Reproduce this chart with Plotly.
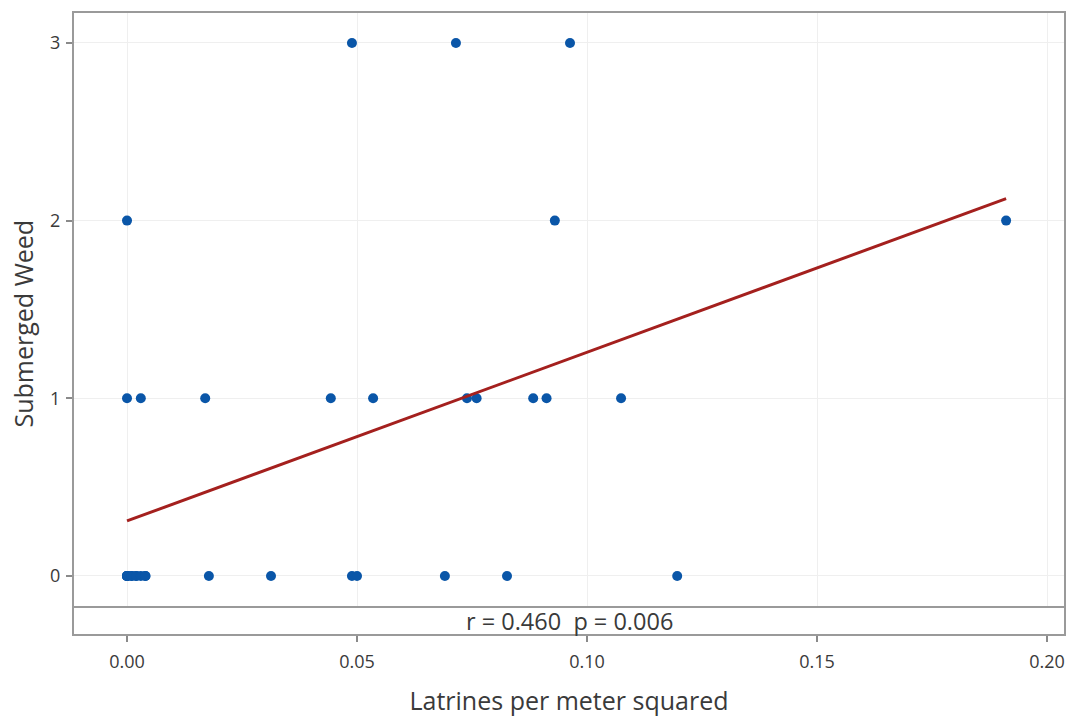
import numpy as np
import plotly.graph_objects as go

# Data
latrines = [
    0.0489, 0.0715, 0.0963,
    0.0, 0.0930, 0.1911,
    0.0, 0.0030, 0.0170, 0.0443, 0.0535, 0.0739, 0.0760, 0.0883, 0.0912, 0.1074,
    0.0, 0.0, 0.0, 0.0, 0.0, 0.001, 0.001, 0.002, 0.002, 0.003, 0.004, 0.004,
    0.0178, 0.0313, 0.0489, 0.0500, 0.0691, 0.0826, 0.1196,
]
weed = [
    3, 3, 3,
    2, 2, 2,
    1, 1, 1, 1, 1, 1, 1, 1, 1, 1,
    0, 0, 0, 0, 0, 0, 0, 0, 0, 0, 0, 0,
    0, 0, 0, 0, 0, 0, 0,
]
x_ticks = [0.0, 0.05, 0.10, 0.15, 0.20]
x_ticklabels = ["0.00", "0.05", "0.10", "0.15", "0.20"]
y_ticks = [0, 1, 2, 3]
stat_text = "r = 0.460  p = 0.006"
x_title = "Latrines per meter squared"
y_title = "Submerged Weed"

x = np.array(latrines)
y = np.array(weed, dtype=float)
slope, intercept = np.polyfit(x, y, 1)
fit_x = np.array([x.min(), x.max()])
fit_y = intercept + slope * fit_x

FONT = "Open Sans"
GREY = "#9a9a9a"
TXT = "#3a3a3a"

strip = 28 / 623.0

fig = go.Figure()
fig.add_trace(go.Scatter(
    x=latrines, y=weed, mode="markers",
    marker=dict(color="#0a56a8", size=10, line=dict(width=0)),
    showlegend=False, hoverinfo="skip",
))
fig.add_trace(go.Scatter(
    x=fit_x, y=fit_y, mode="lines",
    line=dict(color="#a4201e", width=3),
    showlegend=False, hoverinfo="skip",
))

fig.update_layout(
    width=1070, height=717,
    margin=dict(l=73, r=5, t=12, b=82),
    paper_bgcolor="white", plot_bgcolor="white",
    font=dict(family=FONT, color=TXT),
    xaxis=dict(
        range=[-0.01174, 0.2039], anchor="free", position=0,
        tickvals=x_ticks, ticktext=x_ticklabels,
        ticks="outside", ticklen=6, tickcolor="#8a8a8a", tickwidth=1.5,
        showgrid=True, gridcolor="#efefef", gridwidth=1,
        zeroline=False, showline=False,
        tickfont=dict(size=18, color=TXT),
        ticklabelstandoff=4,
        title=dict(text=x_title, font=dict(size=25, color=TXT), standoff=22),
    ),
    yaxis=dict(
        range=[-0.1745, 3.174], domain=[strip, 1],
        tickvals=y_ticks,
        ticks="outside", ticklen=6, tickcolor="#8a8a8a", tickwidth=1.5,
        showgrid=True, gridcolor="#efefef", gridwidth=1,
        zeroline=False, showline=False,
        tickfont=dict(size=18, color=TXT),
        ticklabelstandoff=2,
    ),
    shapes=[
        dict(type="rect", xref="paper", yref="paper", x0=0, x1=1, y0=0, y1=1,
             line=dict(color=GREY, width=2), fillcolor="rgba(0,0,0,0)"),
        dict(type="line", xref="paper", yref="paper", x0=0, x1=1, y0=strip, y1=strip,
             line=dict(color=GREY, width=2)),
    ],
    annotations=[
        dict(text=stat_text, xref="paper", yref="paper", x=0.5, y=strip / 2,
             xanchor="center", yanchor="middle", showarrow=False,
             font=dict(size=23.5, color=TXT, family=FONT)),
        dict(text=y_title, xref="paper", yref="paper", x=0, y=0.5,
             xanchor="center", yanchor="middle", xshift=-51, textangle=-90,
             showarrow=False, font=dict(size=25, color=TXT, family=FONT)),
    ],
)

fig.write_html("out.html")
